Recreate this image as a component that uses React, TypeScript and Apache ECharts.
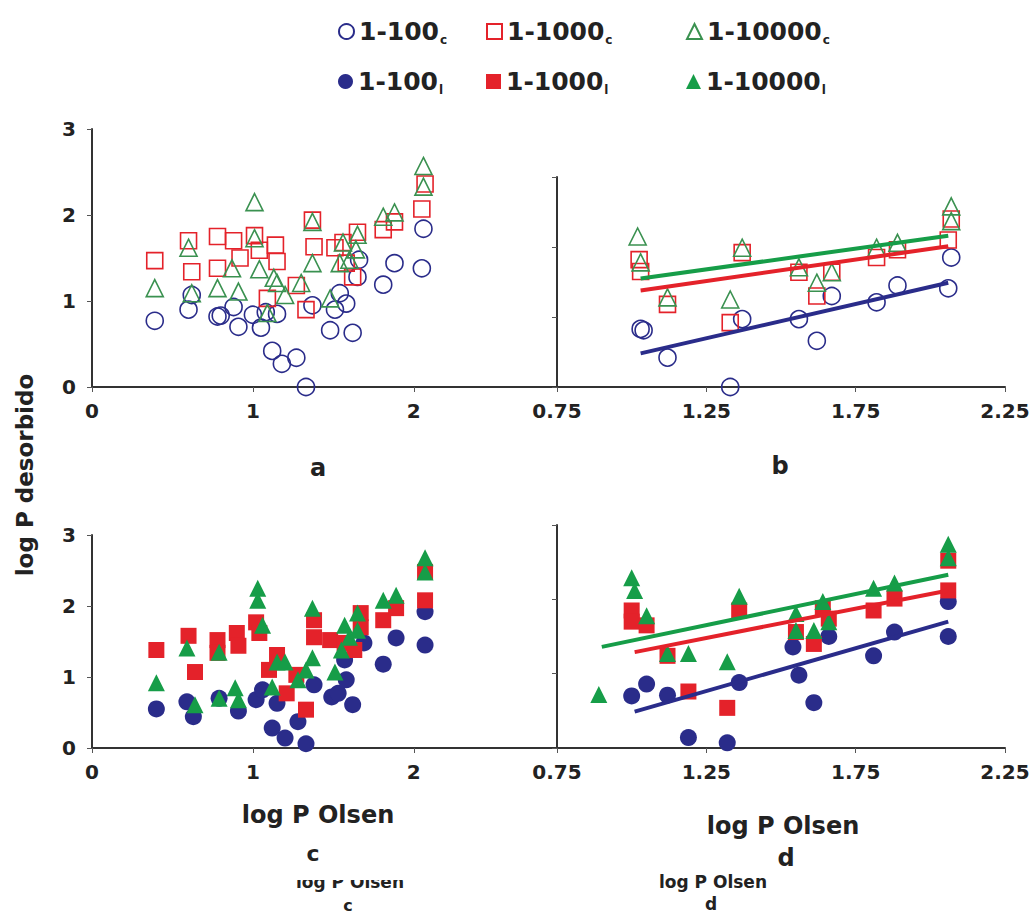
import React, { useEffect, useRef } from 'react';
import * as echarts from 'echarts';

// ---------- data (log P Olsen, log P desorbido) ----------
// panel a: open markers, all soils
const aOpen100 = [[0.39,0.77],[0.60,0.90],[0.62,1.07],[0.78,0.82],[0.80,0.83],[0.88,0.93],[0.91,0.70],[1.00,0.84],[1.05,0.69],[1.08,0.87],[1.15,0.85],[1.12,0.42],[1.18,0.27],[1.27,0.34],[1.33,0.0],[1.37,0.95],[1.48,0.66],[1.51,0.90],[1.54,1.09],[1.58,0.97],[1.62,0.63],[1.65,1.28],[1.66,1.48],[1.81,1.19],[1.88,1.44],[2.05,1.38],[2.06,1.84]];
const aOpen1000 = [[0.39,1.47],[0.60,1.70],[0.62,1.34],[0.78,1.75],[0.78,1.38],[0.88,1.70],[0.92,1.50],[1.01,1.76],[1.04,1.59],[1.14,1.65],[1.15,1.46],[1.09,1.03],[1.27,1.18],[1.33,0.90],[1.37,1.94],[1.38,1.63],[1.51,1.62],[1.56,1.68],[1.58,1.44],[1.65,1.80],[1.62,1.28],[1.81,1.83],[1.88,1.92],[2.05,2.07],[2.07,2.36]];
const aOpen10000 = [[0.39,1.15],[0.60,1.62],[0.62,1.09],[0.78,1.15],[0.87,1.38],[0.91,1.11],[1.01,2.15],[1.01,1.73],[1.04,1.37],[1.13,1.27],[1.15,1.21],[1.20,1.07],[1.30,1.21],[1.37,1.92],[1.37,1.44],[1.48,1.03],[1.54,1.44],[1.56,1.68],[1.60,1.48],[1.65,1.77],[1.64,1.60],[1.81,1.98],[1.88,2.03],[2.06,2.57],[2.06,2.33],[1.09,0.86]];

// panel b: open markers, subset with fitted lines
const bOpen100 = [[1.03,0.83],[1.04,0.81],[1.12,0.42],[1.33,0.0],[1.37,0.97],[1.56,0.97],[1.62,0.66],[1.67,1.30],[1.82,1.21],[1.89,1.45],[2.06,1.41],[2.07,1.85]];
const bOpen1000 = [[1.025,1.82],[1.03,1.65],[1.12,1.18],[1.33,0.92],[1.37,1.92],[1.56,1.64],[1.62,1.30],[1.67,1.64],[1.82,1.85],[1.89,1.96],[2.06,2.10],[2.07,2.40]];
const bOpen10000 = [[1.02,2.15],[1.03,1.78],[1.12,1.28],[1.33,1.25],[1.37,1.99],[1.56,1.71],[1.62,1.49],[1.67,1.64],[1.82,1.99],[1.89,2.06],[2.07,2.58],[2.07,2.37]];
const bFit100 = [[1.03,0.48],[2.06,1.49]];
const bFit1000 = [[1.03,1.38],[2.06,2.01]];
const bFit10000 = [[1.03,1.55],[2.06,2.16]];

// panel c: filled markers, all soils
const cFill100 = [[0.40,0.55],[0.59,0.65],[0.63,0.44],[0.79,0.70],[0.91,0.52],[1.02,0.68],[1.06,0.82],[1.15,0.63],[1.12,0.28],[1.20,0.14],[1.28,0.37],[1.33,0.06],[1.38,0.89],[1.49,0.72],[1.53,0.77],[1.58,0.96],[1.62,0.61],[1.57,1.24],[1.69,1.48],[1.81,1.18],[1.89,1.55],[2.07,1.45],[2.07,1.92]];
const cFill1000 = [[0.40,1.38],[0.60,1.58],[0.64,1.07],[0.78,1.52],[0.78,1.34],[0.90,1.62],[0.91,1.44],[1.02,1.77],[1.04,1.62],[1.10,1.10],[1.15,1.31],[1.21,0.77],[1.27,1.03],[1.33,0.54],[1.38,1.80],[1.38,1.56],[1.48,1.52],[1.57,1.48],[1.63,1.38],[1.67,1.90],[1.67,1.70],[1.81,1.80],[1.89,1.97],[2.07,2.08],[2.07,2.48]];
const cFill10000 = [[0.40,0.92],[0.59,1.41],[0.64,0.61],[0.79,1.35],[0.89,0.85],[0.79,0.70],[0.91,0.68],[1.03,2.25],[1.03,2.08],[1.06,1.73],[1.12,0.86],[1.15,1.21],[1.20,1.21],[1.28,0.96],[1.37,1.97],[1.37,1.27],[1.33,1.10],[1.51,1.07],[1.57,1.73],[1.55,1.38],[1.60,1.56],[1.65,1.90],[1.65,1.66],[1.81,2.08],[1.89,2.15],[2.07,2.68],[2.07,2.48]];

// panel d: filled markers, subset with fitted lines
const dFill100 = [[1.00,0.70],[1.05,0.86],[1.12,0.71],[1.19,0.14],[1.32,0.07],[1.36,0.88],[1.54,1.36],[1.56,0.98],[1.61,0.61],[1.66,1.50],[1.81,1.24],[1.88,1.56],[2.06,1.50],[2.06,1.97]];
const dFill1000 = [[1.00,1.85],[1.00,1.70],[1.05,1.65],[1.12,1.24],[1.19,0.76],[1.32,0.54],[1.36,1.85],[1.55,1.56],[1.61,1.40],[1.64,1.88],[1.66,1.74],[1.81,1.85],[1.88,2.01],[2.06,2.12],[2.06,2.52]];
const dFill10000 = [[0.89,0.72],[1.00,2.29],[1.01,2.12],[1.05,1.78],[1.12,1.27],[1.19,1.27],[1.32,1.16],[1.36,2.04],[1.55,1.81],[1.55,1.58],[1.61,1.58],[1.64,1.97],[1.66,1.70],[1.81,2.15],[1.88,2.22],[2.06,2.74],[2.06,2.56]];
const dFit100 = [[1.01,0.49],[2.06,1.70]];
const dFit1000 = [[1.01,1.29],[2.06,2.12]];
const dFit10000 = [[0.90,1.36],[2.06,2.33]];

const seriesNames = ['1-100c', '1-1000c', '1-10000c', '1-100l', '1-1000l', '1-10000l'];
const leftTicks = [0, 1, 2];
const rightTicks = [0.75, 1.25, 1.75, 2.25];

const BLUE = '#2a2c8a';
const RED = '#e4222a';
const GREEN_OPEN = '#3a9150';
const GREEN = '#169d48';
const FONT = 'DejaVu Sans';

export default function App() {
  const ref = useRef<HTMLDivElement>(null);
  useEffect(() => {
    document.body.style.margin = '0';
    const chart = echarts.init(ref.current!, null, { renderer: 'svg' });

    const labelStyle = { fontFamily: FONT, fontWeight: 'bold', fontSize: 20, color: '#222' };
    const axisLine = { show: true, lineStyle: { color: '#333', width: 2 } };
    const axisTick = { show: true, length: 5, lineStyle: { color: '#555', width: 1 } };

    const grids = [
      { left: 92, top: 129, width: 465, height: 258 },
      { left: 557, top: 177, width: 448, height: 210 },
      { left: 92, top: 535, width: 465, height: 213 },
      { left: 557, top: 525, width: 448, height: 223 },
    ];

    const xLeft = (gi: number) => ({
      type: 'value', gridIndex: gi, min: 0, max: 2.89, interval: 1,
      splitLine: { show: false }, axisLine, axisTick,
      axisLabel: { ...labelStyle, margin: 14, showMaxLabel: false,
        formatter: (v: number) => (leftTicks.includes(v) ? String(v) : '') },
    });
    const xRight = (gi: number) => ({
      type: 'value', gridIndex: gi, min: 0.75, max: 2.25, interval: 0.5,
      splitLine: { show: false }, axisLine, axisTick,
      axisLabel: { ...labelStyle, margin: 14,
        formatter: (v: number) => {
          const t = rightTicks.find((r) => Math.abs(r - v) < 1e-6);
          return t === undefined ? '' : t.toFixed(2);
        } },
    });
    const yAx = (gi: number, showLabel: boolean) => ({
      type: 'value', gridIndex: gi, min: 0, max: 3, interval: 1,
      splitLine: { show: false }, axisLine, axisTick,
      axisLabel: { ...labelStyle, show: showLabel, margin: 16 },
    });

    const openStyle = (c: string) => ({ color: 'rgba(255,255,255,0)', borderColor: c, borderWidth: 1.6, opacity: 1 });
    const fillStyle = (c: string) => ({ color: c, opacity: 1 });
    const scatter = (name: string, gi: number, data: number[][], symbol: string, size: number, itemStyle: any) => ({
      name, type: 'scatter', xAxisIndex: gi, yAxisIndex: gi, data, symbol, symbolSize: size, itemStyle,
    });
    const fit = (gi: number, data: number[][], color: string) => ({
      name: 'fit', type: 'line', xAxisIndex: gi, yAxisIndex: gi, data, symbol: 'none', z: 3,
      lineStyle: { color, width: 4 },
    });

    const series = [
      scatter(seriesNames[0], 0, aOpen100, 'circle', 17, openStyle(BLUE)),
      scatter(seriesNames[1], 0, aOpen1000, 'rect', 16, openStyle(RED)),
      scatter(seriesNames[2], 0, aOpen10000, 'triangle', 17, openStyle(GREEN_OPEN)),
      scatter(seriesNames[0], 1, bOpen100, 'circle', 17, openStyle(BLUE)),
      scatter(seriesNames[1], 1, bOpen1000, 'rect', 16, openStyle(RED)),
      scatter(seriesNames[2], 1, bOpen10000, 'triangle', 17, openStyle(GREEN_OPEN)),
      fit(1, bFit10000, GREEN), fit(1, bFit1000, RED), fit(1, bFit100, BLUE),
      scatter(seriesNames[3], 2, cFill100, 'circle', 17, fillStyle(BLUE)),
      scatter(seriesNames[4], 2, cFill1000, 'rect', 16, fillStyle(RED)),
      scatter(seriesNames[5], 2, cFill10000, 'triangle', 17, fillStyle(GREEN)),
      scatter(seriesNames[3], 3, dFill100, 'circle', 17, fillStyle(BLUE)),
      scatter(seriesNames[4], 3, dFill1000, 'rect', 16, fillStyle(RED)),
      scatter(seriesNames[5], 3, dFill10000, 'triangle', 17, fillStyle(GREEN)),
      fit(3, dFit10000, GREEN), fit(3, dFit1000, RED), fit(3, dFit100, BLUE),
    ];

    const legendPos = [[333, 14], [481, 14], [681, 14], [333, 64], [481, 64], [681, 64]];
    const legend = seriesNames.map((n, i) => ({
      data: [n], left: legendPos[i][0], top: legendPos[i][1], itemWidth: 15, itemHeight: 15, itemGap: 0,
      selectedMode: false,
      formatter: (name: string) => `{m|${name.slice(0, -1)}}{s|${name.slice(-1)}}`,
      textStyle: {
        rich: {
          m: { fontFamily: FONT, fontWeight: 'bold', fontSize: 25, color: '#222', lineHeight: 28 },
          s: { fontFamily: FONT, fontWeight: 'bold', fontSize: 12, color: '#222', lineHeight: 28, verticalAlign: 'bottom', padding: [0, 0, 0, 1] },
        },
      },
    }));

    const txt = (text: string, x: number, y: number, size: number, extra: any = {}) => ({
      type: 'text', x, y, ...extra,
      style: { text, fill: '#222', font: `bold ${size}px "${FONT}"`, textAlign: 'center', textVerticalAlign: 'middle' },
    });

    chart.setOption({
      animation: false,
      backgroundColor: '#ffffff',
      grid: grids,
      xAxis: [xLeft(0), xRight(1), xLeft(2), xRight(3)],
      yAxis: [yAx(0, true), yAx(1, false), yAx(2, true), yAx(3, false)],
      legend,
      series,
      graphic: [
        txt('log P desorbido', 25, 475, 23, { rotation: Math.PI / 2 }),
        txt('a', 318, 468, 24),
        txt('b', 780, 466, 24),
        txt('log P Olsen', 318, 815, 24),
        txt('c', 313, 853, 22),
        txt('log P Olsen', 783, 826, 24),
        txt('d', 786, 858, 24),
        txt('log P Olsen', 350, 882, 17),
        { type: 'rect', shape: { x: 290, y: 868, width: 120, height: 12 }, style: { fill: '#ffffff' } },
        txt('c', 348, 905, 16),
        txt('log P Olsen', 713, 882, 17),
        txt('d', 711, 904, 17),
      ],
    });
    return () => chart.dispose();
  }, []);
  return <div ref={ref} style={{ width: 1036, height: 916 }} />;
}
